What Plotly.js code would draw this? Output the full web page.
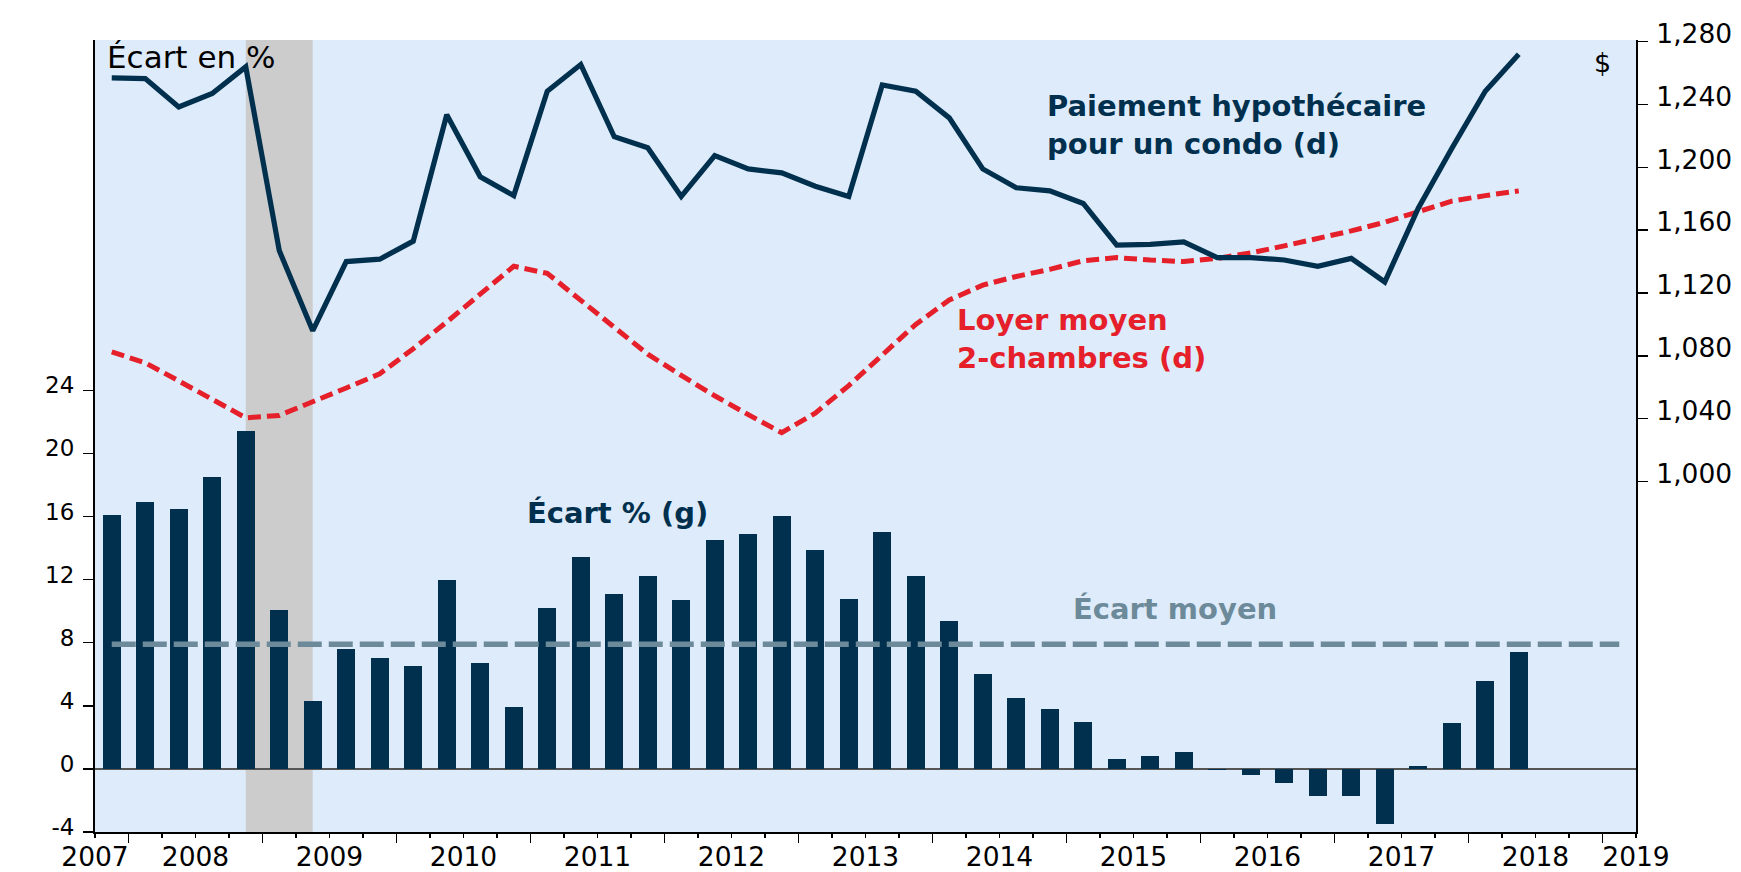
<!DOCTYPE html>
<html>
<head>
<meta charset="utf-8">
<script src="https://cdn.plot.ly/plotly-3.0.1.min.js"></script>
<style>
  html, body { margin: 0; padding: 0; background: #ffffff; }
  #chart { width: 1741px; height: 872px; }
</style>
</head>
<body>
<div id="chart"></div>
<script>
// ---------------- DATA ----------------
const periods = [
  '2007Q4',
  '2008Q1','2008Q2','2008Q3','2008Q4',
  '2009Q1','2009Q2','2009Q3','2009Q4',
  '2010Q1','2010Q2','2010Q3','2010Q4',
  '2011Q1','2011Q2','2011Q3','2011Q4',
  '2012Q1','2012Q2','2012Q3','2012Q4',
  '2013Q1','2013Q2','2013Q3','2013Q4',
  '2014Q1','2014Q2','2014Q3','2014Q4',
  '2015Q1','2015Q2','2015Q3','2015Q4',
  '2016Q1','2016Q2','2016Q3','2016Q4',
  '2017Q1','2017Q2','2017Q3','2017Q4',
  '2018Q1','2018Q2'
];

// Écart % (g) — left axis
const ecartPct = [
  16.1,
  16.9, 16.5, 18.5, 21.4,
  10.1, 4.3, 7.6, 7.0,
  6.5, 12.0, 6.7, 3.9,
  10.2, 13.4, 11.1, 12.2,
  10.7, 14.5, 14.9, 16.0,
  13.9, 10.8, 15.0, 12.2,
  9.4, 6.0, 4.5, 3.8,
  3.0, 0.6, 0.8, 1.1,
  -0.1, -0.4, -0.9, -1.7,
  -1.7, -3.5, 0.2, 2.9,
  5.6, 7.4
];

// Paiement hypothécaire pour un condo (d) — right axis, $
const paiementCondo = [
  1257,
  1256.5, 1238.5, 1247, 1264,
  1147, 1096, 1140, 1141.5,
  1153, 1233.5, 1194, 1182,
  1248.5, 1265.5, 1219.5, 1212.5,
  1181.5, 1207.5, 1199, 1196.5,
  1188, 1181.5, 1252.5, 1248.5,
  1231.5, 1199, 1187, 1185,
  1177, 1150.5, 1151, 1152.5,
  1142.5, 1142.5, 1141, 1137,
  1142, 1127, 1174, 1212,
  1248.5, 1272
];

// Loyer moyen 2-chambres (d) — right axis, $
const loyerMoyen = [
  1082.5,
  1075.5, 1064, 1052, 1040.5,
  1042, 1050.5, 1059.5, 1068.5,
  1084.5, 1101.5, 1119, 1137,
  1132.5, 1115, 1098, 1081,
  1067.5, 1054.5, 1042.5, 1031,
  1043.5, 1061, 1080.5, 1100,
  1115.5, 1125, 1130.5, 1135,
  1140.5, 1142.5, 1141, 1140,
  1142, 1145.5, 1150, 1154.5,
  1159.5, 1165, 1171.5, 1178.5,
  1182, 1185
];

// Écart moyen spans these periods
const ecartMoyenPeriods = ['2007Q4', '2019Q1'];

// Recession shading (observation periods)
const recession = ['2008Q4', '2009Q2'];

// Axis ticks / labels
const yearLabels = ['2007','2008','2009','2010','2011','2012','2013','2014','2015','2016','2017','2018','2019'];
const leftTicks = [-4, 0, 4, 8, 12, 16, 20, 24];
const leftTickText = ['-4', '0', '4', '8', '12', '16', '20', '24'];
const rightTicks = [1000, 1040, 1080, 1120, 1160, 1200, 1240, 1280];
const rightTickText = ['1,000', '1,040', '1,080', '1,120', '1,160', '1,200', '1,240', '1,280'];

// ---------------- HELPERS ----------------
function periodToX(p) {            // centre of the quarter
  const y = parseInt(p.slice(0, 4), 10);
  const q = parseInt(p.slice(5), 10);
  return y + (q - 1) / 4 + 0.125;
}
function periodStart(p) {
  const y = parseInt(p.slice(0, 4), 10);
  const q = parseInt(p.slice(5), 10);
  return y + (q - 1) / 4;
}

const xs = periods.map(periodToX);
const xStart = periodStart(periods[0]);                 // 2007.75
const xEnd = periodStart(ecartMoyenPeriods[1]) + 0.25;  // 2019.25
const ecartMoyen = ecartPct.reduce((a, b) => a + b, 0) / ecartPct.length;

const firstYear = parseInt(yearLabels[0], 10);
const lastYear = parseInt(yearLabels[yearLabels.length - 1], 10);

const yearBounds = [];
for (let y = firstYear + 1; y <= lastYear; y++) yearBounds.push(y);
const quarterBounds = [];
for (let v = xStart; v <= xEnd + 1e-9; v += 0.25) {
  if (Math.abs(v - Math.round(v)) > 1e-6) quarterBounds.push(v);
}
const gridYears = yearBounds.filter(y => y % 2 === 0);

const labelVals = yearLabels.map((s, i) => {
  const y = parseInt(s, 10);
  if (i === 0) return xStart + 1e-4;
  if (i === yearLabels.length - 1) return xEnd - 1e-4;
  return y + 0.5;
});

// ---------------- STYLE ----------------
const NAVY = '#00304e';
const RED = '#e5202a';
const SLATE = '#6c8a99';
const BG = '#deebfa';
const FONT = 'DejaVu Sans, Verdana, sans-serif';

const traces = [
  {
    type: 'bar', x: xs, y: ecartPct, xaxis: 'x', yaxis: 'y',
    width: 0.134,
    marker: { color: NAVY, line: { width: 0 } },
    hoverinfo: 'skip', showlegend: false
  },
  {
    // average line lives on the tick-mark overlay axis (same range as x)
    type: 'scatter', mode: 'lines',
    x: ecartMoyenPeriods.map(periodToX),
    y: ecartMoyenPeriods.map(() => ecartMoyen),
    xaxis: 'x2', yaxis: 'y',
    line: { color: SLATE, width: 5.5, dash: '24px,7px' },
    hoverinfo: 'skip', showlegend: false
  },
  {
    type: 'scatter', mode: 'lines', x: xs, y: loyerMoyen,
    xaxis: 'x', yaxis: 'y2',
    line: { color: RED, width: 5, dash: '13px,6px' },
    hoverinfo: 'skip', showlegend: false
  },
  {
    type: 'scatter', mode: 'lines', x: xs, y: paiementCondo,
    xaxis: 'x', yaxis: 'y2',
    line: { color: NAVY, width: 5.2 },
    hoverinfo: 'skip', showlegend: false
  }
];

const layout = {
  width: 1741, height: 872,
  margin: { l: 95, r: 105, t: 40, b: 40, pad: 0 },
  paper_bgcolor: '#ffffff',
  plot_bgcolor: BG,
  font: { family: FONT, color: '#000000', size: 26 },
  showlegend: false,
  bargap: 0,
  // main x axis: year labels + axis line
  xaxis: {
    range: [xStart, xEnd],
    tickmode: 'array', tickvals: labelVals, ticktext: yearLabels,
    ticks: '', showticklabels: true,
    tickfont: { family: FONT, size: 26.5, color: '#000' },
    ticklabelstandoff: 0,
    ticklabeloverflow: 'allow',
    showgrid: false, zeroline: false,
    showline: true, linecolor: '#000', linewidth: 2,
    fixedrange: true
  },
  // overlay: year-boundary (long) and quarter (short) tick marks
  xaxis2: {
    overlaying: 'x', anchor: 'y', side: 'bottom',
    range: [xStart, xEnd],
    tickmode: 'array', tickvals: yearBounds,
    ticks: 'outside', ticklen: 10, tickwidth: 1.5, tickcolor: '#000',
    showticklabels: false,
    minor: { tickmode: 'array', tickvals: quarterBounds, ticks: 'outside', ticklen: 5, tickwidth: 1.5, tickcolor: '#000', showgrid: false },
    showline: false, showgrid: false, zeroline: false,
    fixedrange: true
  },
  // overlay: white vertical grid every two years
  xaxis3: {
    overlaying: 'x', anchor: 'y', side: 'bottom',
    range: [xStart, xEnd],
    tickmode: 'array', tickvals: gridYears,
    ticks: '', showticklabels: false, showline: false,
    showgrid: true, gridcolor: '#ffffff', gridwidth: 1.5, zeroline: false,
    fixedrange: true
  },
  yaxis: {
    range: [-4, 46.2],
    tickmode: 'array', tickvals: leftTicks, ticktext: leftTickText,
    ticks: 'outside', ticklen: 10, tickwidth: 1.5, tickcolor: '#000',
    tickfont: { family: FONT, size: 23, color: '#000' },
    ticklabelshift: -5, ticklabelstandoff: 4,
    ticklabeloverflow: 'allow',
    showgrid: false,
    zeroline: true, zerolinecolor: '#555555', zerolinewidth: 1.5,
    showline: true, linecolor: '#000', linewidth: 2,
    fixedrange: true
  },
  yaxis2: {
    overlaying: 'y', side: 'right', anchor: 'x',
    range: [776.7, 1281.1],
    tickmode: 'array', tickvals: rightTicks, ticktext: rightTickText,
    ticks: 'outside', ticklen: 10, tickwidth: 1.5, tickcolor: '#000',
    tickfont: { family: FONT, size: 26.5, color: '#000' },
    ticklabelshift: -8, ticklabelstandoff: 3,
    ticklabeloverflow: 'allow',
    showgrid: false, zeroline: false,
    showline: true, linecolor: '#000', linewidth: 2,
    fixedrange: true
  },
  shapes: [
    {
      type: 'rect', xref: 'x', yref: 'paper',
      x0: periodToX(recession[0]), x1: periodToX(recession[1]),
      y0: 0, y1: 1,
      fillcolor: '#cccccc', line: { width: 0 }, layer: 'below'
    }
  ],
  annotations: [
    {
      text: 'Écart en %', xref: 'paper', yref: 'paper',
      x: 0.0065, y: 0.978, xanchor: 'left', yanchor: 'middle',
      showarrow: false, font: { family: FONT, size: 31, color: '#000' }
    },
    {
      text: '$', xref: 'paper', yref: 'paper',
      x: 0.978, y: 0.972, xanchor: 'center', yanchor: 'middle',
      showarrow: false, font: { family: FONT, size: 27, color: '#000' }
    },
    {
      text: '<b>Paiement hypothécaire<br>pour un condo (d)</b>', xref: 'paper', yref: 'paper',
      x: 0.6165, y: 0.9407, xanchor: 'left', yanchor: 'top', align: 'left',
      showarrow: false, font: { family: FONT, size: 29, color: NAVY }
    },
    {
      text: '<b>Loyer moyen<br>2-chambres (d)</b>', xref: 'paper', yref: 'paper',
      x: 0.558, y: 0.6705, xanchor: 'left', yanchor: 'top', align: 'left',
      showarrow: false, font: { family: FONT, size: 29, color: RED }
    },
    {
      text: '<b>Écart % (g)</b>', xref: 'paper', yref: 'paper',
      x: 0.279, y: 0.4268, xanchor: 'left', yanchor: 'top', align: 'left',
      showarrow: false, font: { family: FONT, size: 29, color: NAVY }
    },
    {
      text: '<b>Écart moyen</b>', xref: 'paper', yref: 'paper',
      x: 0.6334, y: 0.3056, xanchor: 'left', yanchor: 'top', align: 'left',
      showarrow: false, font: { family: FONT, size: 29, color: SLATE }
    }
  ]
};

Plotly.newPlot('chart', traces, layout, { displayModeBar: false, staticPlot: true });
</script>
</body>
</html>
